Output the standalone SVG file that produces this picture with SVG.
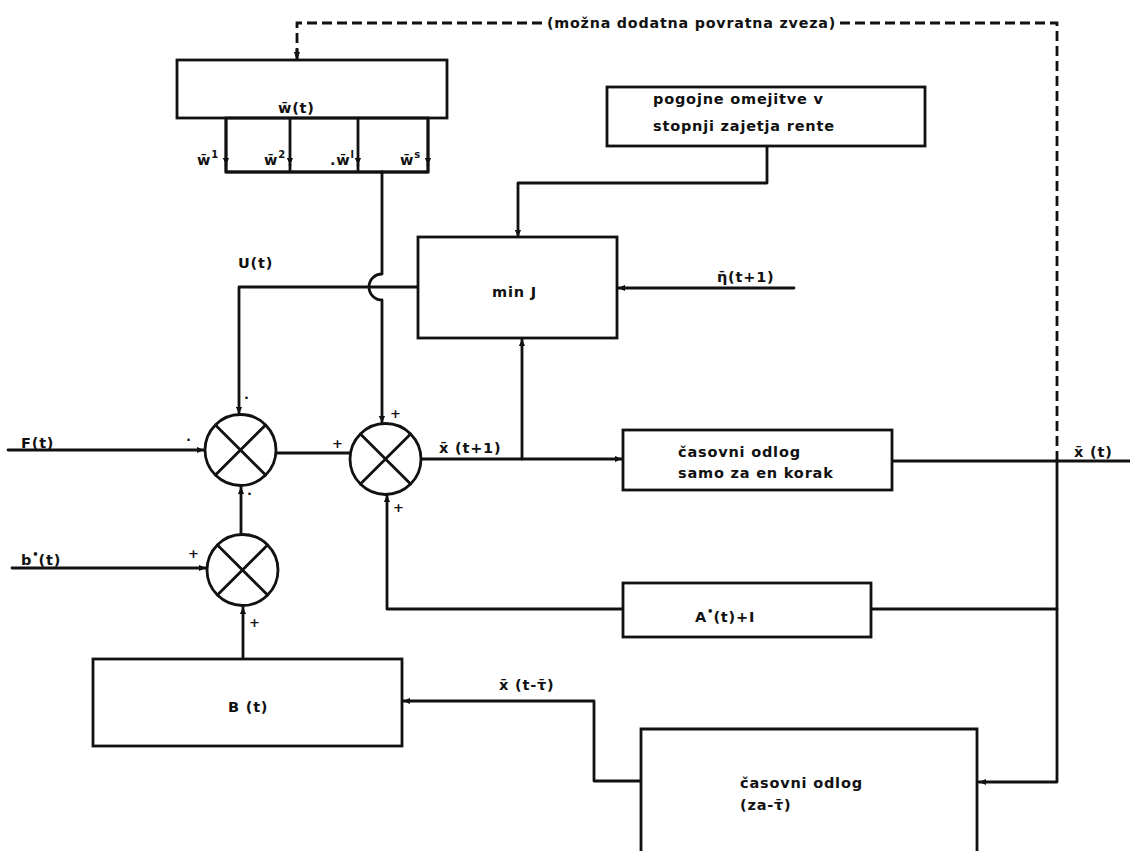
<svg xmlns="http://www.w3.org/2000/svg" width="1130" height="851" viewBox="0 0 1130 851">
<style>
.ln{fill:none;stroke:#111;stroke-width:2.8;stroke-linejoin:round;stroke-linecap:round}
.dash{fill:none;stroke:#111;stroke-width:2.8;stroke-dasharray:10 5}
.bx{fill:#fff;stroke:#111;stroke-width:2.8}
.t{font-family:"DejaVu Sans","Liberation Sans",sans-serif;font-weight:bold;font-size:14.5px;letter-spacing:0.8px;fill:#111}
.s{font-size:10px;letter-spacing:0}
.sg{font-family:"DejaVu Sans",sans-serif;font-weight:bold;font-size:13px;fill:#111}
</style>
<defs>
<marker id="ar" viewBox="0 0 8 8" refX="8" refY="4" markerWidth="7" markerHeight="7" markerUnits="userSpaceOnUse" orient="auto">
<path d="M0,0.5 L8,4 L0,7.5 z" fill="#111"/>
</marker>
</defs>
<rect width="1130" height="851" fill="#fff"/>

<g id="connectors">
<path class="dash" d="M297,58 V23 H545"/>
<path class="ln" d="M297,50 V59" marker-end="url(#ar)"/>
<path class="dash" d="M840,23 H1057 V460"/>
<path class="ln" d="M226,118 V165" marker-end="url(#ar)"/>
<path class="ln" d="M290,118 V165" marker-end="url(#ar)"/>
<path class="ln" d="M358,118 V165" marker-end="url(#ar)"/>
<path class="ln" d="M428,118 V165" marker-end="url(#ar)"/>
<path class="ln" d="M226,165 V172 H428 V165 M290,165 V172 M358,165 V172"/>
<path class="ln" d="M382,172 V274 A13,13 0 0 0 382,300 V423" marker-end="url(#ar)"/>
<path class="ln" d="M767,146 V183 H518 V237" marker-end="url(#ar)"/>
<path class="ln" d="M794,288 H618" marker-end="url(#ar)"/>
<path class="ln" d="M418,287 H239 V414" marker-end="url(#ar)"/>
<path class="ln" d="M8,450 H204" marker-end="url(#ar)"/>
<path class="ln" d="M12,568 H206" marker-end="url(#ar)"/>
<path class="ln" d="M241,534 V487" marker-end="url(#ar)"/>
<path class="ln" d="M243,660 V607" marker-end="url(#ar)"/>
<path class="ln" d="M276,453 H349"/>
<path class="ln" d="M421,459 H622" marker-end="url(#ar)"/>
<path class="ln" d="M522,459 V339" marker-end="url(#ar)"/>
<path class="ln" d="M892,461 H1130"/>
<path class="ln" d="M1057,460 V782 H979" marker-end="url(#ar)"/>
<path class="ln" d="M1057,609 H871 M623,609 H387 V495" marker-end="url(#ar)"/>
<path class="ln" d="M641,781 H594 V701 H403" marker-end="url(#ar)"/>
</g>

<g id="feedback-label">
<text class="t" x="547" y="28" textLength="289" lengthAdjust="spacingAndGlyphs">(možna dodatna povratna zveza)</text>
</g>

<g id="w-box">
<rect class="bx" x="177" y="60" width="270" height="58"/>
<text class="t" x="278" y="113">w̄(t)</text>
<rect x="226" y="118" width="202" height="54" fill="none" stroke="#111" stroke-width="2.8"/>
<text class="t" x="197" y="165">w̄<tspan class="s" dy="-7">1</tspan></text>
<text class="t" x="264" y="165">w̄<tspan class="s" dy="-7">2</tspan></text>
<text class="t" x="330" y="165">.w̄<tspan class="s" dy="-7">l</tspan></text>
<text class="t" x="400" y="165">w̄<tspan class="s" dy="-7">s</tspan></text>
</g>

<g id="pogojne">
<rect class="bx" x="607" y="87" width="318" height="59"/>
<text class="t" x="653" y="104">pogojne omejitve v</text>
<text class="t" x="653" y="131">stopnji zajetja rente</text>
</g>

<g id="minJ">
<rect class="bx" x="418" y="237" width="199" height="101"/>
<text class="t" x="492" y="297">min J</text>
</g>

<g id="labels">
<text class="t" x="238" y="268">U(t)</text>
<text class="t" x="717" y="282">η̄(t+1)</text>
<text class="t" x="21" y="448">F(t)</text>
<text class="t" x="21" y="565">b<tspan class="s" dy="-7">•</tspan><tspan dy="7">(t)</tspan></text>
<text class="t" x="439" y="453">x̄ (t+1)</text>
<text class="t" x="1074" y="457">x̄ (t)</text>
<text class="t" x="499" y="690">x̄ (t-τ̄)</text>
<text class="sg" x="244" y="402">·</text>
<text class="sg" x="186" y="444">·</text>
<text class="sg" x="247" y="498">·</text>
<text class="sg" x="332" y="448">+</text>
<text class="sg" x="390" y="418">+</text>
<text class="sg" x="393" y="512">+</text>
<text class="sg" x="188" y="558">+</text>
<text class="sg" x="249" y="627">+</text>
</g>

<g id="sum1">
<circle class="bx" cx="240.5" cy="450" r="35.5"/>
<path class="ln" d="M215.4,424.9 L265.6,475.1 M265.6,424.9 L215.4,475.1"/>
</g>
<g id="sum2">
<circle class="bx" cx="385.5" cy="459" r="35.5"/>
<path class="ln" d="M360.4,433.9 L410.6,484.1 M410.6,433.9 L360.4,484.1"/>
</g>
<g id="sum3">
<circle class="bx" cx="242.5" cy="570" r="35.5"/>
<path class="ln" d="M217.4,544.9 L267.6,595.1 M267.6,544.9 L217.4,595.1"/>
</g>

<g id="delay1">
<rect class="bx" x="623" y="430" width="269" height="60"/>
<text class="t" x="678" y="457">časovni odlog</text>
<text class="t" x="678" y="478">samo za en korak</text>
</g>

<g id="A-box">
<rect class="bx" x="623" y="583" width="248" height="54"/>
<text class="t" x="695" y="622">A<tspan class="s" dy="-7">•</tspan><tspan dy="7">(t)+I</tspan></text>
</g>

<g id="B-box">
<rect class="bx" x="93" y="659" width="309" height="87"/>
<text class="t" x="228" y="712">B (t)</text>
</g>

<g id="delay-tau">
<path class="bx" d="M641,856 V729 H977 V856"/>
<text class="t" x="740" y="788">časovni odlog</text>
<text class="t" x="740" y="810">(za-τ̄)</text>
</g>
</svg>
